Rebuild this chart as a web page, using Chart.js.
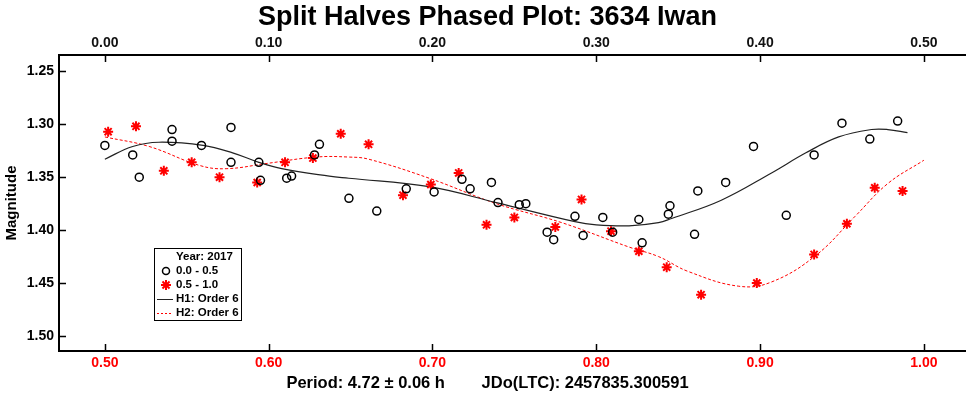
<!DOCTYPE html>
<html>
<head>
<meta charset="utf-8">
<script src="https://cdn.jsdelivr.net/npm/chart.js@4.4.0/dist/chart.umd.min.js"></script>
<style>
html, body { margin: 0; padding: 0; background: #fff; overflow: hidden; }
#wrap { width: 980px; height: 400px; }
</style>
</head>
<body>
<div id="wrap"><canvas id="myChart" width="980" height="400"></canvas></div>
<script>
// axis ticks
const phaseTicks = [0.5, 0.6, 0.7, 0.8, 0.9, 1.0];
const topTicks = [0.0, 0.1, 0.2, 0.3, 0.4, 0.5];
const magTicks = [1.25, 1.30, 1.35, 1.40, 1.45, 1.50];

// first half of the data (0.0 - 0.5), black circles
const firstPhase = [0.500, 0.517, 0.521, 0.541, 0.541, 0.559, 0.577, 0.577, 0.594, 0.595, 0.611, 0.614,
  0.628, 0.631, 0.649, 0.666, 0.684, 0.701, 0.718, 0.723, 0.736, 0.740, 0.753, 0.757, 0.770, 0.774,
  0.787, 0.792, 0.804, 0.810, 0.826, 0.828, 0.844, 0.845, 0.862, 0.860, 0.879, 0.896, 0.916, 0.933,
  0.950, 0.967, 0.984];
const firstMag = [1.320, 1.329, 1.350, 1.305, 1.316, 1.320, 1.303, 1.336, 1.336, 1.353, 1.351, 1.349,
  1.329, 1.319, 1.370, 1.382, 1.361, 1.364, 1.352, 1.361, 1.355, 1.374, 1.376, 1.375, 1.402, 1.409,
  1.387, 1.405, 1.388, 1.402, 1.390, 1.412, 1.385, 1.377, 1.363, 1.404, 1.355, 1.321, 1.386, 1.329,
  1.299, 1.314, 1.297];

// second half of the data (0.5 - 1.0), red stars
const secondPhase = [0.502, 0.519, 0.536, 0.553, 0.570, 0.593, 0.610, 0.627, 0.644, 0.661, 0.682, 0.699,
  0.716, 0.733, 0.750, 0.775, 0.791, 0.809, 0.826, 0.843, 0.864, 0.898, 0.933, 0.953, 0.970, 0.987];
const secondMag = [1.307, 1.302, 1.344, 1.336, 1.350, 1.355, 1.336, 1.332, 1.309, 1.319, 1.367, 1.357,
  1.346, 1.395, 1.388, 1.397, 1.371, 1.401, 1.420, 1.435, 1.461, 1.450, 1.423, 1.394, 1.360, 1.363];

// fitted curves
const h1Phase = [0.500, 0.517, 0.533, 0.560, 0.578, 0.594, 0.608, 0.637, 0.649, 0.698, 0.739, 0.787,
  0.800, 0.820, 0.838, 0.846, 0.876, 0.907, 0.928, 0.948, 0.968, 0.978, 0.990];
const h1Mag = [1.333, 1.321, 1.317, 1.320, 1.327, 1.336, 1.342, 1.349, 1.351, 1.359, 1.374, 1.392,
  1.395, 1.396, 1.393, 1.389, 1.372, 1.346, 1.327, 1.312, 1.305, 1.305, 1.308];

const h2Phase = [0.500, 0.527, 0.558, 0.574, 0.599, 0.629, 0.649, 0.661, 0.698, 0.739, 0.779, 0.820,
  0.838, 0.856, 0.887, 0.907, 0.934, 0.958, 0.978, 1.000];
const h2Mag = [1.312, 1.321, 1.339, 1.342, 1.337, 1.331, 1.331, 1.333, 1.351, 1.375, 1.393, 1.416,
  1.425, 1.439, 1.453, 1.449, 1.424, 1.387, 1.356, 1.334];

const toPoints = (xs, ys) => xs.map((x, i) => ({ x: x, y: ys[i] }));

const boldFont = "'Liberation Sans', Arial, sans-serif";

const framePlugin = {
  id: 'frame',
  afterDraw(chart) {
    const ctx = chart.ctx;
    const a = chart.chartArea;
    const sx = chart.scales.x, st = chart.scales.xTop, sy = chart.scales.y;
    ctx.save();
    ctx.strokeStyle = '#000';
    ctx.lineWidth = 1.5;
    ctx.beginPath();
    phaseTicks.forEach(v => {
      const px = Math.round(sx.getPixelForValue(v)) + 0.5;
      ctx.moveTo(px, a.bottom); ctx.lineTo(px, a.bottom - 7);
    });
    topTicks.forEach(v => {
      const px = Math.round(st.getPixelForValue(v)) + 0.5;
      ctx.moveTo(px, a.top); ctx.lineTo(px, a.top + 7);
    });
    magTicks.forEach(v => {
      const py = Math.round(sy.getPixelForValue(v)) + 0.5;
      ctx.moveTo(a.left, py); ctx.lineTo(a.left + 7, py);
      ctx.moveTo(a.right, py); ctx.lineTo(a.right - 7, py);
    });
    ctx.stroke();
    ctx.lineWidth = 2;
    ctx.strokeRect(a.left, a.top, a.right - a.left, a.bottom - a.top);

    // legend box
    const lx = 154, ly = 248, lw = 87, lh = 72;
    ctx.fillStyle = '#fff';
    ctx.fillRect(lx, ly, lw, lh);
    ctx.lineWidth = 1;
    ctx.strokeRect(lx + 0.5, ly + 0.5, lw, lh);
    ctx.fillStyle = '#000';
    ctx.font = "bold 11.5px " + boldFont;
    ctx.textBaseline = 'middle';
    ctx.textAlign = 'left';
    const tx = 176;
    ctx.fillText('Year: 2017', tx, ly + 9);
    ctx.fillText('0.0 - 0.5', tx, ly + 23);
    ctx.fillText('0.5 - 1.0', tx, ly + 37);
    ctx.fillText('H1: Order 6', tx, ly + 51);
    ctx.fillText('H2: Order 6', tx, ly + 65);

    ctx.strokeStyle = '#000';
    ctx.fillStyle = 'rgba(0,0,0,0)';
    ctx.lineWidth = 1.5;
    Chart.helpers.drawPoint(ctx, { pointStyle: 'circle', radius: 3.5, borderWidth: 1.5, rotation: 0 }, 166, ly + 23);
    ctx.strokeStyle = '#ff0000';
    ctx.lineWidth = 2;
    Chart.helpers.drawPoint(ctx, { pointStyle: 'star', radius: 5, borderWidth: 2, rotation: 0 }, 166, ly + 37);

    ctx.lineWidth = 1;
    ctx.strokeStyle = '#222';
    ctx.beginPath(); ctx.moveTo(157, ly + 51.5); ctx.lineTo(173, ly + 51.5); ctx.stroke();
    ctx.strokeStyle = '#ff0000';
    ctx.setLineDash([2, 2]);
    ctx.beginPath(); ctx.moveTo(157, ly + 65.5); ctx.lineTo(173, ly + 65.5); ctx.stroke();
    ctx.restore();
  }
};

const ctx = document.getElementById('myChart');
const myChart = new Chart(ctx, {
  type: 'scatter',
  data: {
    datasets: [
      {
        label: '0.0 - 0.5',
        data: toPoints(firstPhase, firstMag),
        pointStyle: 'circle',
        pointRadius: 4,
        pointBorderWidth: 1.5,
        borderColor: '#000',
        backgroundColor: 'rgba(0,0,0,0)',
        order: 1
      },
      {
        label: '0.5 - 1.0',
        data: toPoints(secondPhase, secondMag),
        pointStyle: 'star',
        pointRadius: 5,
        pointBorderWidth: 2,
        borderColor: '#ff0000',
        backgroundColor: '#ff0000',
        order: 2
      },
      {
        label: 'H1: Order 6',
        data: toPoints(h1Phase, h1Mag),
        showLine: true,
        pointRadius: 0,
        borderColor: '#222',
        borderWidth: 1.2,
        tension: 0.4,
        order: 3
      },
      {
        label: 'H2: Order 6',
        data: toPoints(h2Phase, h2Mag),
        showLine: true,
        pointRadius: 0,
        borderColor: '#ff0000',
        borderWidth: 1,
        borderDash: [3, 2],
        tension: 0.4,
        order: 4
      }
    ]
  },
  options: {
    responsive: false,
    animation: false,
    layout: { padding: { left: 0, right: 5, top: 0, bottom: 0 } },
    plugins: {
      legend: { display: false },
      tooltip: { enabled: false },
      title: {
        display: true,
        text: 'Split Halves Phased Plot: 3634 Iwan',
        color: '#000',
        font: { family: boldFont, size: 27, weight: 'bold', lineHeight: 1.2 },
        padding: { top: 1, bottom: 0 }
      },
      subtitle: {
        display: true,
        position: 'bottom',
        text: 'Period: 4.72 \u00b1 0.06 h        JDo(LTC): 2457835.300591',
        color: '#000',
        font: { family: boldFont, size: 16.5, weight: 'bold', lineHeight: 1.2 },
        padding: { top: 0, bottom: 7 }
      }
    },
    scales: {
      x: {
        type: 'linear',
        position: 'bottom',
        min: 0.472,
        max: 1.030,
        afterBuildTicks: s => { s.ticks = phaseTicks.map(v => ({ value: v })); },
        afterFit: s => { s.height = 400 - 351 - 26.8; },
        grid: { display: false, drawTicks: false },
        border: { display: false },
        ticks: {
          color: '#ff0000',
          padding: 4,
          maxRotation: 0,
          font: { family: boldFont, size: 14, weight: 'bold' },
          callback: v => v.toFixed(2)
        }
      },
      xTop: {
        type: 'linear',
        position: 'top',
        display: true,
        min: -0.028,
        max: 0.530,
        afterBuildTicks: s => { s.ticks = topTicks.map(v => ({ value: v })); },
        afterFit: s => { s.height = 55 - 33.4; },
        grid: { display: false, drawTicks: false },
        border: { display: false },
        ticks: {
          color: '#111',
          padding: 3,
          maxRotation: 0,
          font: { family: boldFont, size: 14, weight: 'bold' },
          callback: v => v.toFixed(2)
        }
      },
      y: {
        type: 'linear',
        reverse: true,
        min: 1.2346,
        max: 1.5142,
        afterBuildTicks: s => { s.ticks = magTicks.map(v => ({ value: v })); },
        afterFit: s => { s.width = 59; },
        grid: { display: false, drawTicks: false },
        border: { display: false },
        title: {
          display: true,
          text: 'Magnitude',
          color: '#000',
          font: { family: boldFont, size: 15, weight: 'bold' },
          padding: { top: 3, bottom: 0 }
        },
        ticks: {
          color: '#000',
          padding: 5,
          font: { family: boldFont, size: 14, weight: 'bold' },
          callback: v => v.toFixed(2)
        }
      }
    }
  },
  plugins: [framePlugin]
});
</script>
</body>
</html>
